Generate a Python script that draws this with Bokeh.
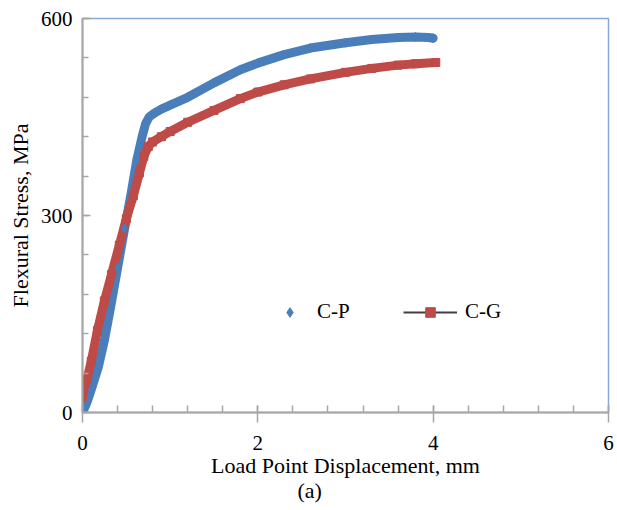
from bokeh.plotting import figure
from bokeh.models import FixedTicker, Legend, LegendItem, Range1d, Title
from bokeh.embed import file_html
from bokeh.resources import INLINE

# ---- data ----
cp_x = [0, 0.05, 0.1, 0.18, 0.25, 0.32, 0.4, 0.48, 0.55, 0.62, 0.68, 0.72,
        0.76, 0.82, 0.9, 1.0, 1.2, 1.5, 1.8, 2.0, 2.3, 2.6, 3.0, 3.3, 3.6,
        3.8, 3.95, 4.0]
cp_y = [0, 15, 35, 69, 110, 160, 220, 280, 330, 385, 420, 440, 450, 456,
        462, 468, 480, 502, 522, 532, 545, 555, 563, 568, 571, 572, 571, 570]

cg_x = [0, 0.05, 0.1, 0.17, 0.25, 0.33, 0.42, 0.5, 0.58, 0.65, 0.7, 0.75,
        0.8, 0.9, 1.0, 1.2, 1.5, 1.8, 2.0, 2.3, 2.6, 3.0, 3.3, 3.6, 3.8, 4.03]
cg_y = [24, 50, 78, 125, 170, 210, 255, 295, 330, 365, 390, 405, 412, 420,
        428, 442, 460, 478, 488, 499, 508, 518, 524, 529, 531, 533]

x_major = [0, 2, 4, 6]
x_minor = [0.4 * i for i in range(16)]
y_major = [0, 300, 600]
y_minor = [60 * i for i in range(11)]

BLUE = "#4a7ebb"
RED = "#be4b48"
GRAY = "#a6a6a6"
FONT = "Liberation Serif"

p = figure(width=617, height=510, output_backend="svg", toolbar_location=None,
           x_range=Range1d(0, 6), y_range=Range1d(0, 600),
           min_border_left=82, min_border_right=9, min_border_top=18,
           min_border_bottom=98)
p.xgrid.visible = False
p.ygrid.visible = False
p.outline_line_color = "#86a9d9"
p.outline_line_width = 1.5
p.background_fill_color = "white"
p.border_fill_color = "white"

# thin series line (seen in the legend), then the thick marker bands
cg_line = p.line(cg_x, cg_y, line_color="#404040", line_width=2)
p.line(cp_x, cp_y, line_color=BLUE, line_width=9, line_cap="round",
       line_join="round")
p.line(cg_x, cg_y, line_color=RED, line_width=9, line_cap="butt",
       line_join="round")
cp_pts = p.scatter(cp_x, cp_y, marker="diamond", size=9, color=BLUE)
cg_pts = p.scatter(cg_x, cg_y, marker="square", size=8, color=RED)

# axes
for ax in (p.xaxis[0], p.yaxis[0]):
    ax.axis_line_color = GRAY
    ax.axis_line_width = 2
    ax.major_tick_line_color = GRAY
    ax.minor_tick_line_color = GRAY
    ax.major_tick_line_width = 1.5
    ax.minor_tick_line_width = 1.5
    ax.major_label_text_font = FONT
    ax.major_label_text_font_size = "21px"
    ax.major_label_text_color = "black"
    ax.axis_label_text_font = FONT
    ax.axis_label_text_font_size = "22px"
    ax.axis_label_text_font_style = "normal"
    ax.axis_label_text_color = "black"

p.xaxis.ticker = FixedTicker(ticks=x_major, minor_ticks=x_minor)
p.yaxis.ticker = FixedTicker(ticks=y_major, minor_ticks=y_minor)
p.xaxis.major_tick_in = 7
p.xaxis.major_tick_out = 10
p.xaxis.minor_tick_in = 7
p.xaxis.minor_tick_out = 0
p.yaxis.major_tick_in = 8
p.yaxis.major_tick_out = 0
p.yaxis.minor_tick_in = 6
p.yaxis.minor_tick_out = 0
p.xaxis.major_label_standoff = 13
p.yaxis.major_label_standoff = 10
p.xaxis.axis_label = "Load Point Displacement, mm"
p.yaxis.axis_label = "Flexural Stress, MPa"
p.xaxis.axis_label_standoff = 0
p.yaxis.axis_label_standoff = 5

# legends
def make_legend(items, loc, gw, standoff):
    return Legend(items=items, location=loc, orientation="horizontal",
                  glyph_width=gw, glyph_height=24, label_standoff=standoff,
                  padding=0, margin=0, spacing=0, border_line_color=None,
                  background_fill_alpha=0, label_text_font=FONT,
                  label_text_font_size="21px", label_text_color="black",
                  label_height=24)

p.add_layout(make_legend([LegendItem(label="C-P", renderers=[cp_pts])],
                         (195, 88), 25, 15), "center")
p.add_layout(make_legend([LegendItem(label="C-G",
                                     renderers=[cg_line, cg_pts])],
                         (321, 88), 54, 8), "center")

p.add_layout(Title(text="(a)", align="left", offset=215, standoff=-9,
                   text_font=FONT, text_font_size="22px",
                   text_font_style="normal", text_color="black"), "below")

open("out.html", "w").write(file_html(p, INLINE))
